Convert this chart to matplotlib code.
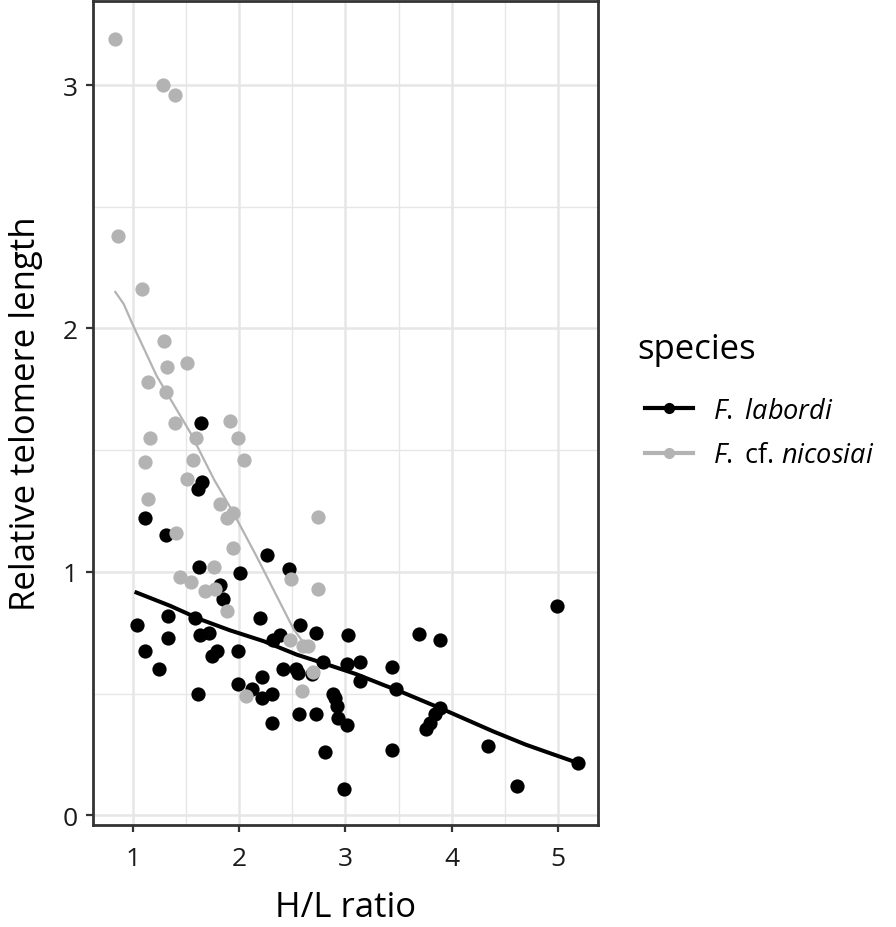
import matplotlib.pyplot as plt
from matplotlib.lines import Line2D

plt.rcParams['font.family'] = ['Open Sans', 'DejaVu Sans']
plt.rcParams['mathtext.fontset'] = 'custom'
plt.rcParams['mathtext.rm'] = 'Open Sans'
plt.rcParams['mathtext.it'] = 'Open Sans:italic'

# F. labordi points (H/L ratio, relative telomere length)
lab_x = [1.64, 1.645, 1.61, 1.11, 1.31, 2.26, 2.47, 1.615, 2.01, 1.82,
         1.85, 1.33, 1.03, 1.58, 1.33, 1.63, 1.71, 1.11, 1.24, 1.74,
         1.79, 1.99, 2.19, 1.605, 2.57, 2.72, 3.02, 2.32, 2.38, 2.79,
         3.01, 2.41, 2.53, 2.55, 2.68, 2.21, 1.99, 2.12, 2.21, 2.31,
         2.885, 2.90, 2.92, 2.93, 3.01, 2.31, 2.56, 2.72, 2.81, 2.99,
         3.69, 3.89, 4.99, 3.14, 3.14, 3.44, 3.475, 3.435, 3.89, 3.84,
         3.80, 3.76, 4.34, 4.62, 5.19]
lab_y = [1.61, 1.37, 1.34, 1.22, 1.15, 1.07, 1.01, 1.02, 0.995, 0.945,
         0.89, 0.82, 0.78, 0.81, 0.73, 0.74, 0.75, 0.675, 0.60, 0.655,
         0.675, 0.675, 0.81, 0.50, 0.78, 0.75, 0.74, 0.72, 0.74, 0.63,
         0.62, 0.60, 0.60, 0.585, 0.58, 0.57, 0.54, 0.52, 0.48, 0.50,
         0.50, 0.48, 0.45, 0.40, 0.37, 0.38, 0.415, 0.415, 0.26, 0.11,
         0.745, 0.72, 0.86, 0.63, 0.55, 0.61, 0.52, 0.27, 0.44, 0.415,
         0.38, 0.355, 0.285, 0.12, 0.215]

# F. cf. nicosiai points
nic_x = [0.83, 1.28, 1.39, 0.86, 1.08, 1.29, 1.32, 1.51, 1.135, 1.31,
         1.39, 1.91, 1.16, 1.59, 1.99, 1.11, 1.56, 2.04, 1.51, 1.14,
         1.82, 1.94, 1.88, 2.74, 1.40, 1.94, 2.49, 2.74, 1.76, 1.44,
         1.54, 1.68, 1.77, 1.88, 2.48, 2.65, 2.60, 2.06, 2.59, 2.69]
nic_y = [3.19, 3.00, 2.96, 2.38, 2.16, 1.95, 1.84, 1.86, 1.78, 1.74,
         1.61, 1.62, 1.55, 1.55, 1.55, 1.45, 1.46, 1.46, 1.38, 1.30,
         1.28, 1.24, 1.22, 1.225, 1.16, 1.10, 0.97, 0.93, 1.02, 0.98,
         0.96, 0.92, 0.93, 0.84, 0.72, 0.695, 0.695, 0.49, 0.51, 0.59]

# fitted lines
lab_fit_x = [1.03, 1.35, 1.63, 1.91, 2.23, 2.54, 2.79, 3.10, 3.36, 3.51, 3.92, 4.39, 4.70, 4.96, 5.19]
lab_fit_y = [0.915, 0.86, 0.805, 0.76, 0.715, 0.66, 0.625, 0.58, 0.535, 0.51, 0.435, 0.345, 0.29, 0.25, 0.215]
nic_fit_x = [0.83, 0.91, 0.99, 1.22, 1.54, 1.76, 1.94, 2.16, 2.51, 2.62]
nic_fit_y = [2.15, 2.10, 2.02, 1.805, 1.57, 1.38, 1.245, 1.065, 0.765, 0.70]

black = '#000000'
grey = '#b3b3b3'

fig = plt.figure(figsize=(8.96, 9.28), dpi=100)
ax = fig.add_axes([0.1038, 0.1099, 0.5636, 0.8879])

ax.scatter(lab_x, lab_y, s=105, color=black, linewidths=0, zorder=3)
ax.plot(lab_fit_x, lab_fit_y, '-', color=black, lw=2.9, zorder=4)
ax.scatter(nic_x, nic_y, s=105, color=grey, linewidths=0, zorder=5)
ax.plot(nic_fit_x, nic_fit_y, '-', color=grey, lw=1.6, zorder=6)

ax.set_xlim(0.62, 5.38)
ax.set_ylim(-0.04, 3.345)
ax.set_xticks([1, 2, 3, 4, 5])
ax.set_yticks([0, 1, 2, 3])
ax.set_xticks([1.5, 2.5, 3.5, 4.5], minor=True)
ax.set_yticks([0.5, 1.5, 2.5], minor=True)
ax.grid(which='major', color='#e6e6e6', lw=1.8, zorder=0)
ax.grid(which='minor', color='#e6e6e6', lw=1.0, zorder=0)
ax.set_axisbelow(True)
for sp in ax.spines.values():
    sp.set_color('#333333')
    sp.set_linewidth(2.0)
ax.tick_params(which='major', direction='out', length=5, width=1.6, color='#333333',
               labelsize=19, labelcolor='#1a1a1a', pad=6)
ax.tick_params(axis='x', which='major', pad=10)
ax.tick_params(which='minor', length=0)

ax.set_xlabel('H/L ratio', fontsize=25, labelpad=14)
ax.set_ylabel('Relative telomere length', fontsize=25, labelpad=14)

fig.text(0.711, 1 - 350 / 928, 'species', fontsize=25, va='center', ha='left')
handles = [Line2D([], [], color=black, lw=3.0, marker='o', markersize=7),
           Line2D([], [], color=grey, lw=3.0, marker='o', markersize=7)]
labels = [r'$\it{F.}$ $\it{labordi}$', r'$\it{F.}$ cf. $\it{nicosiai}$']
leg = fig.legend(handles, labels, loc='center left',
                 bbox_to_anchor=(0.72, 1 - 434 / 928), frameon=False,
                 fontsize=19.5, handlelength=1.75, handletextpad=0.75,
                 labelspacing=0.6, borderpad=0, borderaxespad=0)

fig.savefig('out.png', dpi=100)
